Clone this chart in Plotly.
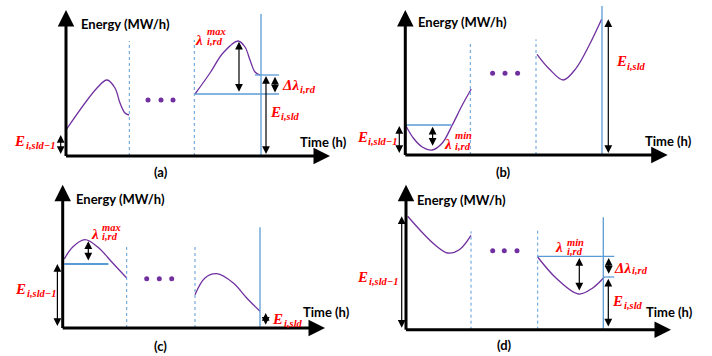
import plotly.graph_objects as go

# ---------------- data (panel units: px right of / above each panel's axis origin) ----------------
panel_names = ["(a)", "(b)", "(c)", "(d)"]

# purple price/energy curves, two segments per panel
a_seg1_t = [0, 31, 41, 49, 54, 59, 63]
a_seg1_e = [26, 68, 76, 68, 53, 43, 41]
a_seg2_t = [129, 144, 157, 172, 179, 184, 189, 194]
a_seg2_e = [62, 83, 103, 115, 109, 96, 84, 81]

b_seg1_t = [0.7, 8, 17, 27, 37, 47, 57, 66]
b_seg1_e = [29, 17, 8, 5, 12, 30, 50, 66]
b_seg2_t = [131.7, 144, 158, 170.7, 184, 196.3]
b_seg2_e = [100.7, 86, 75, 86.7, 110, 135.7]

c_seg1_t = [1.6, 10, 22.3, 35, 50, 64]
c_seg1_e = [69, 81, 88.3, 81, 65, 50]
c_seg2_t = [132.3, 142.3, 154, 170.6, 184, 197.3]
c_seg2_e = [33.3, 50, 54.3, 45, 30, 16.7]

d_seg1_t = [1.7, 16.7, 30, 41.7, 53.3, 65]
d_seg1_e = [113.4, 96.7, 84, 76.7, 80, 94.4]
d_seg2_t = [131.7, 150, 172.7, 186.7, 198.3]
d_seg2_e = [72.7, 51.7, 35.7, 41.7, 52.7]

curves = [
    [(a_seg1_t, a_seg1_e), (a_seg2_t, a_seg2_e)],
    [(b_seg1_t, b_seg1_e), (b_seg2_t, b_seg2_e)],
    [(c_seg1_t, c_seg1_e), (c_seg2_t, c_seg2_e)],
    [(d_seg1_t, d_seg1_e), (d_seg2_t, d_seg2_e)],
]

# dotted period borders (t, top)
dotted_t = [[63.3, 128.3], [65, 130.7], [64, 132.3], [65, 131.7]]
dotted_top = [[115, 116], [111.7, 115.7], [81.7, 81.7], [98.4, 100]]
# solid end-of-day line (t, top)
solid_t = [195, 196.7, 197.3, 197.3]
solid_top = [142, 149, 100.7, 112.4]
# ellipsis dots
dots_t = [[82, 95, 107], [87.3, 99.7, 112.3], [84, 96.6, 109], [86.7, 98.3, 111]]
dots_e = [56, 81.7, 49.3, 79]
# horizontal reference lines (t0, t1, e)
hlines = [
    [(129, 213, 62), (189, 213, 81)],
    [(0.7, 46.3, 30)],
    [(1.6, 45.7, 64)],
    [(131.7, 208.3, 73.4), (198.3, 208.3, 52.7)],
]
# double-headed quantity arrows (t, e_top, e_bottom)
qarrows = [
    [(173, 114.3, 62.7), (209, 79.3, 62), (200, 80, 0.5), (-5.3, 21, 0.5)],
    [(27.3, 28.3, 7.7), (203, 135.7, 0.5), (-6, 29, 0.5)],
    [(25.6, 86.7, 66), (203, 15, 1.7), (-5.3, 64, 0.5)],
    [(173.3, 71.7, 37.7), (202.7, 71.7, 54.4), (202.3, 51, 1.7), (-4.3, 113.4, 0.5)],
]
# math labels: (main, t, e, sup, sub, t_script, e_sup, e_sub)
labels = [
    [("λ", 132.5, 116.5, "max", "i,rd", 138.5, 124.5, 115),
     ("Δλ", 224, 71, None, "i,rd", 231.5, None, 67),
     ("E", 209, 44, None, "i,sld", 212.5, None, 39.5),
     ("E", -46.5, 15.5, None, "i,sld−1", -42.5, None, 11)],
    [("λ", 42.7, 11, "min", "i,rd", 48, 19.5, 9),
     ("E", 216, 93.7, None, "i,sld", 220, None, 89),
     ("E", -43, 18.3, None, "i,sld−1", -39, None, 13.5)],
    [("λ", 31.8, 93.7, "max", "i,rd", 37, 101, 91.5),
     ("E", -42.4, 39, None, "i,sld−1", -38.2, None, 34.7),
     ("E", 215.1, 9, None, "i,sld", 219.3, None, 4.7)],
    [("λ", 153.2, 82.5, "min", "i,rd", 158.5, 87.5, 78.5),
     ("Δλ", 216.5, 62.2, None, "i,rd", 223.8, None, 59),
     ("E", 211.8, 28.4, None, "i,sld", 216, None, 24),
     ("E", -43.3, 53, None, "i,sld−1", -39, None, 48.5)],
]

# ---------------- geometry of the four panels (pixel layout) ----------------
W, H = 712, 356
offsets = [(0, 0), (356, 0), (0, 178), (356, 178)]
origins = [(66, 156), (405.3, 155), (62.7, 328), (406, 329.7)]
x_tips = [264, 262.4, 262.3, 265]
y_tips = [146, 145, 143.3, 145]
energy_lbl = [(59.5, 132), (56.7, 133), (57.3, 129), (55.8, 129.7)]
time_lbl = [(257.5, 14), (262.7, 14), (263.3, 16), (263.3, 17.7)]
name_lbl = [(95, -16), (97.7, -17), (97.3, -18), (98.3, -15.3)]

PURPLE = "#7030A0"
BLUE = "#5B9BD5"
RED = "#FF0000"
SANS = "Lato"
SERIF = "Liberation Serif"

fig = go.Figure()
layout = dict(width=W, height=H, autosize=False, margin=dict(l=0, r=0, t=0, b=0),
              paper_bgcolor="white", plot_bgcolor="white", showlegend=False)
annotations = []
shapes = []

for i in range(4):
    ox, oy = offsets[i]
    x0, y0 = origins[i]
    sfx = "" if i == 0 else str(i + 1)
    xr, yr = "x" + sfx, "y" + sfx
    layout["xaxis" + sfx] = dict(domain=[ox / W, (ox + 356) / W], range=[ox - x0, ox + 356 - x0],
                                 visible=False, fixedrange=True)
    layout["yaxis" + sfx] = dict(domain=[(H - oy - 178) / H, (H - oy) / H],
                                 range=[y0 - (oy + 178), y0 - oy], visible=False, fixedrange=True)

    for (t, e) in curves[i]:
        fig.add_trace(go.Scatter(x=t, y=e, mode="lines", line=dict(color=PURPLE, width=1.3, shape="spline"),
                                 xaxis=xr, yaxis=yr, hoverinfo="skip"))
    fig.add_trace(go.Scatter(x=dots_t[i], y=[dots_e[i]] * 3, mode="markers",
                             marker=dict(color=PURPLE, size=5), xaxis=xr, yaxis=yr, hoverinfo="skip"))

    for t, top in zip(dotted_t[i], dotted_top[i]):
        shapes.append(dict(type="line", xref=xr, yref=yr, x0=t, x1=t, y0=0, y1=top,
                           line=dict(color=BLUE, width=1, dash="dot")))
    shapes.append(dict(type="line", xref=xr, yref=yr, x0=solid_t[i], x1=solid_t[i], y0=0, y1=solid_top[i],
                       line=dict(color=BLUE, width=1.3)))
    for (ta, tb, e) in hlines[i]:
        shapes.append(dict(type="line", xref=xr, yref=yr, x0=ta, x1=tb, y0=e, y1=e,
                           line=dict(color=BLUE, width=2 if i == 2 else 1.3)))

    # axes with arrowheads
    annotations.append(dict(x=x_tips[i], y=0, ax=-1.5, ay=0, xref=xr, yref=yr, axref=xr, ayref=yr,
                            text="", showarrow=True, arrowhead=2, arrowsize=1.1, arrowwidth=3, arrowcolor="black"))
    annotations.append(dict(x=0, y=y_tips[i], ax=0, ay=-1.5, xref=xr, yref=yr, axref=xr, ayref=yr,
                            text="", showarrow=True, arrowhead=2, arrowsize=1.1, arrowwidth=3, arrowcolor="black"))

    for (t, etop, ebot) in qarrows[i]:
        annotations.append(dict(x=t, y=etop, ax=t, ay=ebot, xref=xr, yref=yr, axref=xr, ayref=yr,
                                text="", showarrow=True, arrowhead=2, startarrowhead=2, arrowside="end+start",
                                arrowsize=1.3, startarrowsize=1.3, arrowwidth=1.2, arrowcolor="black"))

    ex, ey = energy_lbl[i]
    annotations.append(dict(x=ex, y=ey, xref=xr, yref=yr, text="<b>Energy (MW/h)</b>", showarrow=False,
                            font=dict(family=SANS, size=13, color="black")))
    tx, ty = time_lbl[i]
    annotations.append(dict(x=tx, y=ty, xref=xr, yref=yr, text="<b>Time (h)</b>", showarrow=False,
                            font=dict(family=SANS, size=13, color="black")))
    nx, ny = name_lbl[i]
    annotations.append(dict(x=nx, y=ny, xref=xr, yref=yr, text="<b>" + panel_names[i] + "</b>", showarrow=False,
                            font=dict(family=SANS, size=13, color="black")))

    for (main, t, e, sup, sub, ts, esup, esub) in labels[i]:
        annotations.append(dict(x=t, y=e, xref=xr, yref=yr, text="<b><i>" + main + "</i></b>", showarrow=False,
                                font=dict(family=SERIF, size=15, color=RED)))
        if sup:
            annotations.append(dict(x=ts, y=esup, xref=xr, yref=yr, text="<b><i>" + sup + "</i></b>",
                                    showarrow=False, xanchor="left",
                                    font=dict(family=SERIF, size=10.5, color=RED)))
        annotations.append(dict(x=ts, y=esub, xref=xr, yref=yr, text="<b><i>" + sub + "</i></b>",
                                showarrow=False, xanchor="left",
                                font=dict(family=SERIF, size=10.5, color=RED)))

layout["annotations"] = annotations
layout["shapes"] = shapes
fig.update_layout(**layout)
fig.write_html("out.html", config={"displayModeBar": False},
               post_script="document.body.style.margin='0px';document.body.style.padding='0px';")
